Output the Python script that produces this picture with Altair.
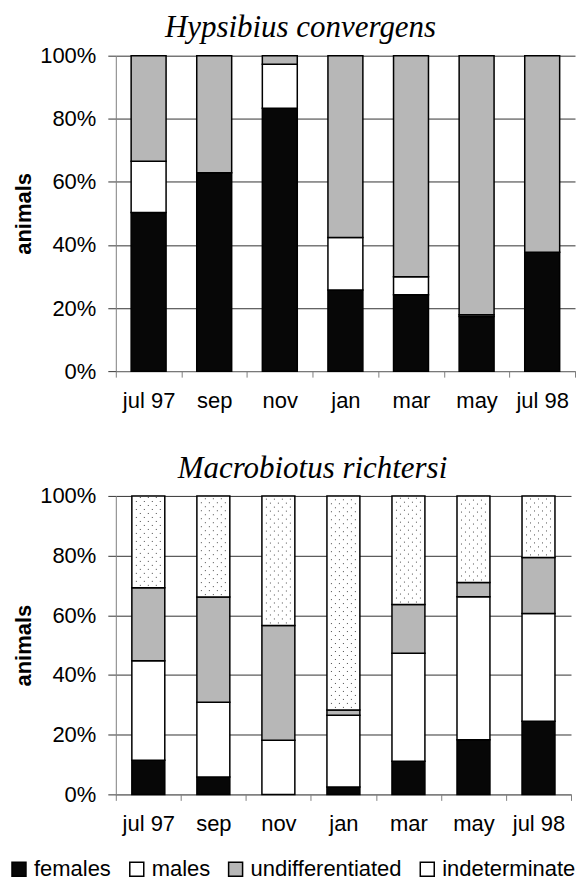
import altair as alt
import pandas as pd

months = ["jul 97", "sep", "nov", "jan", "mar", "may", "jul 98"]
categories = ["females", "males", "undifferentiated", "indeterminate"]
colors = ["#070707", "#ffffff", "#b7b7b7", "#ffffff"]

# Hypsibius convergens (% of animals)
hyp_females = [50.3, 62.9, 83.3, 25.7, 24.2, 17.3, 37.7]
hyp_males = [16.2, 0.0, 14.0, 16.7, 5.7, 0.6, 0.0]
hyp_undiff = [33.5, 37.1, 2.7, 57.6, 70.1, 82.1, 62.3]
hyp_indet = [0, 0, 0, 0, 0, 0, 0]

# Macrobiotus richtersi (% of animals)
mac_females = [11.4, 5.8, 0.0, 2.5, 11.1, 18.3, 24.5]
mac_males = [33.4, 25.1, 18.1, 24.0, 36.2, 47.9, 36.1]
mac_undiff = [24.4, 35.2, 38.5, 1.8, 16.3, 4.8, 18.8]
mac_indet = [30.8, 33.9, 43.4, 71.7, 36.4, 29.0, 20.6]

y_ticks = [0, 20, 40, 60, 80, 100]


def stack(series):
    rows = []
    for i, m in enumerate(months):
        cum = 0.0
        for c, vals in zip(categories, series):
            v = vals[i]
            if v > 0:
                rows.append(dict(month=m, category=c, start=cum, end=cum + v, value=v))
            cum += v
    return pd.DataFrame(rows)


hyp_df = stack([hyp_females, hyp_males, hyp_undiff, hyp_indet])
mac_df = stack([mac_females, mac_males, mac_undiff, mac_indet])

FONT = "Liberation Sans"


def panel(df, title, width, height, bar_size, title_dx, title_offset):
    x = alt.X("month:N", sort=months,
              scale=alt.Scale(paddingInner=0, paddingOuter=0),
              axis=alt.Axis(title=None, labelAngle=0, tickBand="extent", grid=False,
                            domainColor="#808080", tickColor="#808080", tickSize=6,
                            labelFont=FONT, labelFontSize=22, labelColor="black",
                            labelPadding=13))
    y = alt.Y("start:Q", scale=alt.Scale(domain=[0, 100], nice=False),
              axis=alt.Axis(values=y_ticks, labelExpr="datum.value + '%'",
                            title="animals", grid=True, gridColor="#333333",
                            domainColor="#808080", tickColor="#333333", tickSize=8,
                            labelFont=FONT, labelFontSize=22, labelColor="black",
                            labelPadding=12, titleFont=FONT, titleFontSize=22,
                            titleFontWeight="bold", titleColor="black", titlePadding=4))
    bars = alt.Chart(df).mark_bar(size=bar_size, stroke="black", strokeWidth=1.5).encode(
        x=x, y=y, y2="end:Q",
        color=alt.Color("category:N",
                        scale=alt.Scale(domain=categories, range=colors),
                        legend=alt.Legend(title=None, orient="none", direction="horizontal",
                                          legendX=-108, legendY=804,
                                          symbolType="square", symbolSize=196,
                                          symbolStrokeColor="black", symbolStrokeWidth=1.5,
                                          symbolOpacity=1,
                                          labelFont=FONT, labelFontSize=22, labelColor="black",
                                          labelOffset=4, columnPadding=14)),
    )
    layers = [bars]
    ind = df[df["category"] == "indeterminate"]
    if len(ind):
        offs = [-12, -8, -4, 0, 4, 8, 12]
        for k, o in enumerate(offs):
            layers.append(
                alt.Chart(ind).mark_rule(xOffset=o, strokeDash=[1, 7],
                                         strokeDashOffset=(k % 2) * 4 + 2,
                                         color="#4a4a4a", strokeWidth=1).encode(
                    x=x, y=y, y2="end:Q")
            )
    return alt.layer(*layers).properties(
        width=width, height=height,
        title=alt.TitleParams(title, font="Liberation Serif", fontStyle="italic",
                              fontSize=31, fontWeight="normal", color="black",
                              dx=title_dx, offset=title_offset),
    )


top = panel(hyp_df, "Hypsibius convergens", 460, 316, 35, -45, 1)
bottom = panel(mac_df, "Macrobiotus richtersi", 456, 299, 33, -31, 0)

chart = alt.vconcat(top, bottom, spacing=42).resolve_scale(color="shared").properties(
    padding={"left": 0, "top": 3, "right": 0, "bottom": 0}
).configure_view(stroke=None)

chart.save("out.html", embed_options={"renderer": "svg", "actions": False})
